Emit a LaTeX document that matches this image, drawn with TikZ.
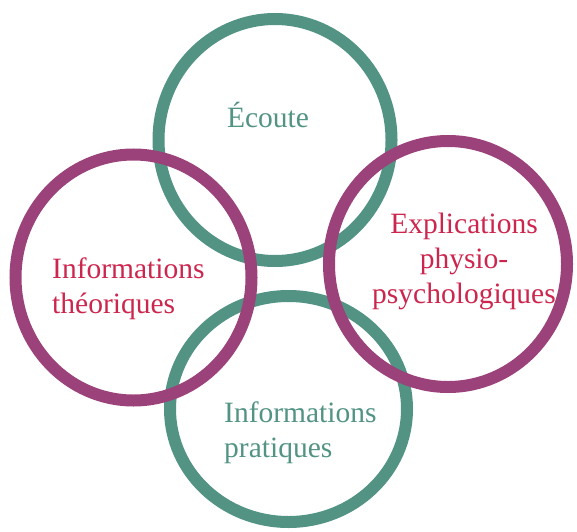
\documentclass[tikz,border=0pt]{standalone}
\usepackage{fontspec}
\setmainfont{Liberation Serif}
\usepackage{tikz}

\definecolor{tealring}{RGB}{82,147,132}
\definecolor{plumring}{RGB}{156,66,122}
\definecolor{rosetext}{RGB}{205,38,78}

\begin{document}
\begin{tikzpicture}[x=1pt,y=1pt,
    ring/.style={line width=12pt},
    label/.style={inner sep=0pt, font=\fontsize{29.5}{35}\selectfont}]

\useasboundingbox (0,0) rectangle (577,531);

% teal rings first, plum rings on top
\draw [ring,tealring] (275,391) ellipse [x radius=116.5, y radius=121];
\draw [ring,tealring] (288.5,122) ellipse [x radius=118.5, y radius=113];
\draw [ring,plumring] (133.5,253.5) ellipse [x radius=118, y radius=123];
\draw [ring,plumring] (448,267) ellipse [x radius=119, y radius=123];

% base anchor sits on the last line
\node (ecoute) [label,text=tealring,anchor=base] at (268,403) {Écoute};
\node (theorie) [label,text=rosetext,anchor=base west,align=left] at (52,218)
    {Informations\\théoriques};
\node (physio) [label,text=rosetext,anchor=base,align=center] at (464,228)
    {Explications\\physio-\\psychologiques};
\node (pratique) [label,text=tealring,anchor=base west,align=left] at (224,74)
    {Informations\\pratiques};
\end{tikzpicture}
\end{document}
